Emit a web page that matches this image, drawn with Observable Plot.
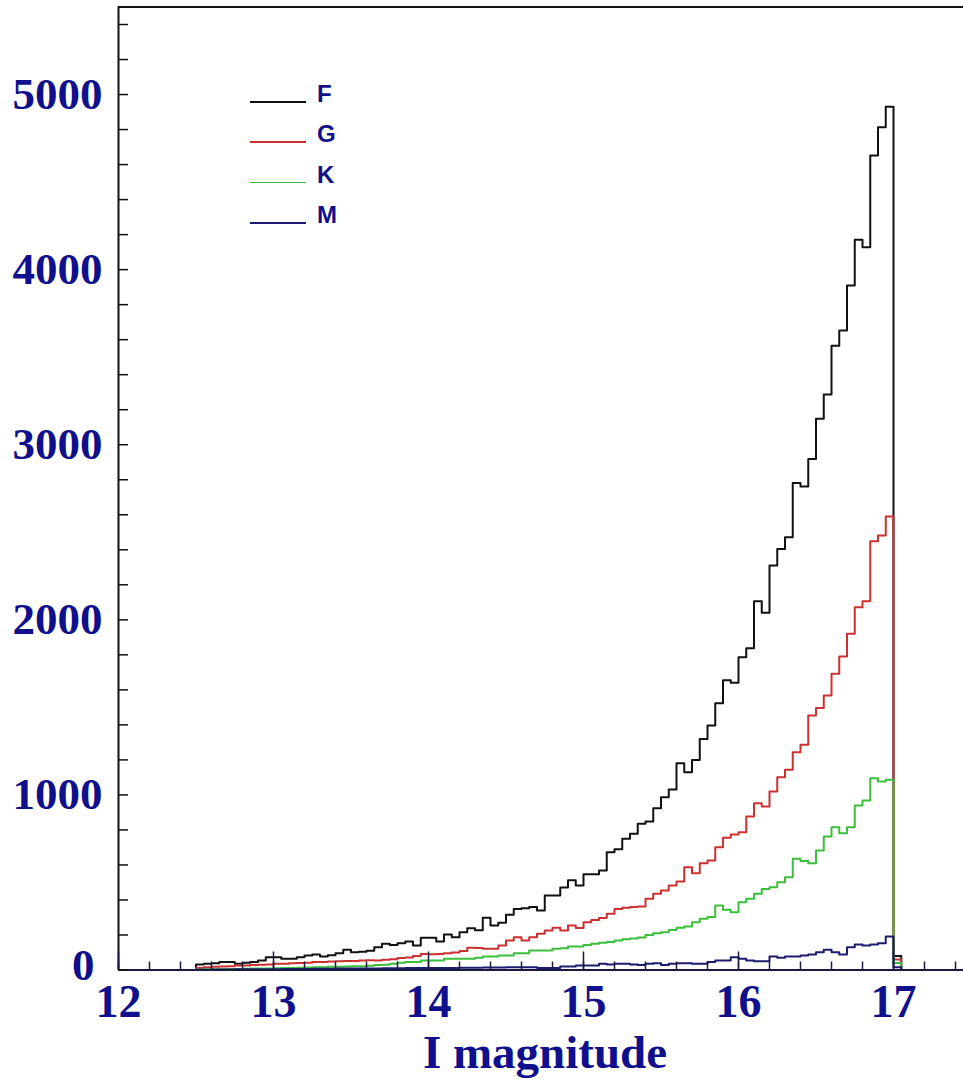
<!DOCTYPE html>
<html>
<head>
<meta charset="utf-8">
<script src="https://cdn.jsdelivr.net/npm/d3@7"></script>
<script src="https://cdn.jsdelivr.net/npm/@observablehq/plot@0.6"></script>
<style>
  html, body { margin: 0; padding: 0; background: #fff; }
  #wrap { position: relative; width: 963px; height: 1079px; overflow: hidden; background: #fff; }
  #legend { position: absolute; left: 0; top: 0; width: 400px; height: 260px; pointer-events: none; }
  .lg-line { position: absolute; height: 1.6px; }
  .lg-text { position: absolute; font-family: "Liberation Sans", Arial, sans-serif; font-weight: bold;
             font-size: 24px; line-height: 24px; color: #10108c; }
</style>
</head>
<body>
<div id="wrap"><div id="legend"></div></div>
<script>
// ---- data -------------------------------------------------------------
const seriesNames = ["F", "G", "K", "M"];
const seriesColors = ["#111111", "#cc3030", "#3cc03c", "#1c1c6e"];
const binStart = 12.5;      // left edge of first bin (I mag)
const binWidth = 0.05;      // bin width (I mag)

// counts per bin, bins 12.50-12.55 ... 16.95-17.00, plus overflow bin 17.00-17.05
const countsF = [31,35,39,45,45,35,41,45,54,73, 73,64,64,73,83,88,77,84,96,115,
  102,104,110,130,150,143,153,163,140,184, 184,163,203,187,216,238,227,298,254,270,
  316,349,352,360,340,425,425,471,513,483, 547,547,568,673,690,749,778,835,848,924,
  987,1031,1181,1130,1200,1320,1396,1524,1655,1640, 1786,1838,2106,2040,2310,2405,2472,2782,2761,2919,
  3148,3287,3566,3652,3909,4170,4128,4652,4813,4931, 80];
const countsG = [12,15,18,20,22,25,25,28,30,32, 35,35,38,40,42,45,45,48,50,52,
  52,54,55,54,58,62,68,72,80,92, 90,92,95,100,108,127,125,121,121,140,
  168,187,168,187,207,225,241,225,254,240, 273,285,297,321,349,355,360,362,407,435,
  454,483,505,587,553,610,625,701,755,774, 787,877,953,934,1019,1101,1143,1244,1286,1453,
  1497,1568,1692,1790,1920,2072,2106,2449,2481,2590, 60];
const countsK = [3,4,4,5,6,6,7,8,8,9, 10,11,12,13,14,15,16,18,19,20,
  21,22,24,28,30,35,42,45,45,54, 54,54,64,64,64,64,70,77,77,83,
  83,96,96,111,111,111,121,124,134,134, 143,150,155,160,168,175,180,185,200,210,
  215,228,241,248,273,292,302,368,344,330, 387,407,435,463,473,501,530,635,622,610,
  682,762,816,781,816,939,968,1095,1077,1086, 40];
const countsM = [2,2,3,3,3,4,4,4,5,5, 5,6,6,6,6,7,7,7,8,8,
  8,9,9,9,10,10,10,11,11,11, 12,12,12,12,13,13,13,14,14,14,
  15,16,16,16,12,12,12,20,20,26, 26,26,35,31,35,35,31,28,35,39,
  28,35,39,39,35,35,45,54,54,73, 64,54,50,50,77,70,77,77,83,88,
  102,115,102,88,130,146,140,146,153,191, 15];
const allCounts = [countsF, countsG, countsK, countsM];

const xTickLabels = [12, 13, 14, 15, 16, 17];
const yTickLabels = [1000, 2000, 3000, 4000, 5000];
const yZeroLabel = [0];
const xMinorTicks = d3.range(60, 88).map(i => i / 5);        // every 0.2 mag
const yMinorTicks = d3.range(0, 28).map(i => i * 200);        // every 200
const xLabel = "I magnitude";

// ---- layout -------------------------------------------------------------
const W = 963, H = 1079;
const mL = 118, mR = 0, mT = 6.5, mB = 109.5;
const pxPerMag = 155;
const plotW = W - mL - mR, plotH = H - mT - mB;
const navy = "#10108c";

// histogram outlines as step lines
function stepPoints(counts, name) {
  const pts = [{x: binStart, y: 0, s: name}];
  counts.forEach((c, i) => pts.push({x: binStart + i * binWidth, y: c, s: name}));
  pts.push({x: binStart + counts.length * binWidth, y: 0, s: name});
  return pts;
}

const lineMarks = seriesNames.map((name, k) =>
  Plot.line(stepPoints(allCounts[k], name), {
    x: "x", y: "y", curve: "step-after",
    stroke: seriesColors[k], strokeWidth: 2
  })
);

const yLabelStyle = {tickSize: 0, tickPadding: 16, tickFormat: "d", label: null,
  fontSize: 45, fontWeight: "bold", fill: navy};

const chart = Plot.plot({
  width: W, height: H,
  marginLeft: mL, marginRight: mR, marginTop: mT, marginBottom: mB,
  style: {background: "white", color: navy, fontFamily: "'Liberation Serif', 'Times New Roman', serif"},
  x: {domain: [12, 12 + plotW / pxPerMag]},
  y: {domain: [0, 5500]},
  marks: [
    ...lineMarks,
    // frame lines
    Plot.ruleY([5500], {stroke: "#111", strokeWidth: 2}),
    Plot.ruleX([12], {stroke: "#111", strokeWidth: 2}),
    Plot.ruleY([0], {stroke: "#1a1a40", strokeWidth: 2}),
    // inward ticks
    Plot.tickY(yMinorTicks, {y: d => d, insetRight: plotW - 10, stroke: "#111", strokeWidth: 1.5}),
    Plot.tickX(xMinorTicks, {x: d => d, insetTop: plotH - 8, stroke: "#1a1a40", strokeWidth: 1.5}),
    Plot.tickX(xTickLabels, {x: d => d, insetTop: plotH - 18, stroke: "#1a1a40", strokeWidth: 1.5}),
    // tick labels
    Plot.axisY({ticks: yTickLabels, ...yLabelStyle}),
    Plot.axisY({ticks: yZeroLabel, ...yLabelStyle, dy: -4, dx: -8}),
    Plot.axisX({ticks: xTickLabels, tickSize: 0, tickPadding: 14, tickFormat: "d", label: null,
      fontSize: 46, fontWeight: "bold", fill: navy}),
    // axis title
    Plot.text([xLabel], {text: d => d, frameAnchor: "bottom", lineAnchor: "middle", dy: 83, dx: 4,
      fontSize: 47, fontWeight: "bold", fill: navy})
  ]
});

const wrap = document.getElementById("wrap");
wrap.insertBefore(chart, wrap.firstChild);

// legend (inside the plotting area, top-left)
const legend = document.getElementById("legend");
seriesNames.forEach((name, k) => {
  const yLine = 102 + 40.4 * k;
  const ln = document.createElement("div");
  ln.className = "lg-line";
  ln.style.left = "250px"; ln.style.top = (yLine - 1) + "px"; ln.style.width = "56px";
  ln.style.background = seriesColors[k];
  legend.appendChild(ln);
  const tx = document.createElement("div");
  tx.className = "lg-text";
  tx.style.left = "317px"; tx.style.top = (yLine - 20) + "px";
  tx.textContent = name;
  legend.appendChild(tx);
});
</script>
</body>
</html>
